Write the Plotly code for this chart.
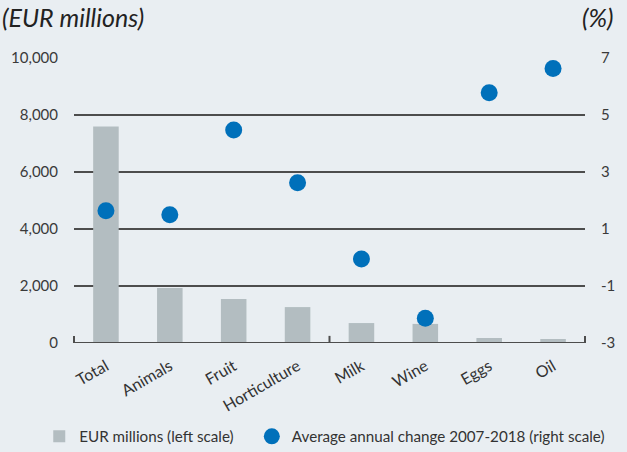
import plotly.graph_objects as go

categories = ["Total", "Animals", "Fruit", "Horticulture", "Milk", "Wine", "Eggs", "Oil"]
eur_millions = [7600, 1930, 1540, 1260, 700, 670, 175, 140]
avg_change = [1.64, 1.5, 4.47, 2.62, -0.05, -2.13, 5.78, 6.63]
left_ticks = [0, 2000, 4000, 6000, 8000, 10000]
left_labels = ["0", "2,000", "4,000", "6,000", "8,000", "10,000"]
right_ticks = [-3, -1, 1, 3, 5, 7]
right_labels = ["-3", "-1", "1", "3", "5", "7"]

BG = "#e9eef2"
GRID = "#4d4d4d"
FONT = "Lato"

fig = go.Figure()
fig.add_trace(go.Bar(
    x=categories, y=eur_millions, name="EUR millions (left scale)",
    marker=dict(color="#b3bdc1", line=dict(width=0)), width=0.4, yaxis="y",
    legend="legend",
))
fig.add_trace(go.Scatter(
    x=categories, y=avg_change, name="Average annual change 2007-2018 (right scale)",
    mode="markers", marker=dict(color="#0070ba", size=17), yaxis="y2",
    legend="legend2",
))

leg_common = dict(orientation="h", y=-0.27, yanchor="top", xanchor="left",
                  font=dict(size=15.2, color="#333333"), itemwidth=30,
                  bgcolor="rgba(0,0,0,0)")

fig.update_layout(
    width=627, height=452,
    paper_bgcolor=BG, plot_bgcolor=BG,
    margin=dict(l=74, r=42, t=58, b=109, autoexpand=False),
    font=dict(family=FONT, color="#333333", size=14),
    showlegend=True,
    legend=dict(x=-0.068, **leg_common),
    legend2=dict(x=0.348, **leg_common),
    xaxis=dict(showgrid=False, showline=False,
               tickangle=-30, ticks="outside", ticklen=7, tickwidth=1, tickcolor=BG,
               tickfont=dict(size=16, color="#333333"),
               range=[-0.5, 7.5]),
    yaxis=dict(range=[0, 10000], tickvals=left_ticks, ticktext=left_labels,
               showgrid=True, gridcolor=GRID, gridwidth=2, zeroline=False,
               showline=False, ticks="outside", ticklen=12, tickcolor=BG,
               tickfont=dict(size=15, color="#3a3a3a")),
    yaxis2=dict(range=[-3, 7], tickvals=right_ticks, ticktext=right_labels,
                overlaying="y", side="right", showgrid=False, zeroline=False,
                showline=False, ticks="outside", ticklen=12, tickcolor=BG,
                tickfont=dict(size=15, color="#3a3a3a")),
    annotations=[
        dict(text="<i>(EUR millions)</i>", xref="paper", yref="paper", x=-0.145, y=1.085,
             xanchor="left", yanchor="bottom", showarrow=False,
             font=dict(size=25, color="#222222")),
        dict(text="<i>(%)</i>", xref="paper", yref="paper", x=1.06, y=1.085,
             xanchor="right", yanchor="bottom", showarrow=False,
             font=dict(size=25, color="#222222")),
    ],
)

fig.add_shape(type="line", xref="paper", yref="y", x0=0, x1=1, y0=0, y1=0,
              line=dict(color=GRID, width=2), layer="above")
for xv in [0, 0.5, 1]:
    fig.add_shape(type="line", xref="paper", yref="y domain", x0=xv, x1=xv, y0=0, y1=0.025,
                  line=dict(color=GRID, width=2), layer="above")

post = ("document.body.style.margin='0';"
        "document.body.style.background='%s';"
        "document.body.style.overflow='hidden';" % BG)
fig.write_html("out.html", post_script=post, config={"displayModeBar": False})
